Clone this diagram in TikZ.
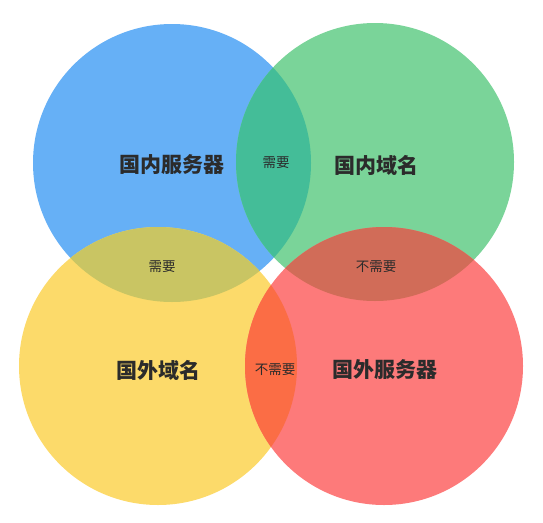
\documentclass[tikz,border=0pt]{standalone}
\usepackage{fontspec}
\setmainfont{Noto Sans CJK SC}
\usepackage{xcolor}
\usepackage{tikz}

\definecolor{dom server}{HTML}{66B0F6}
\definecolor{dom domain}{HTML}{7AD499}
\definecolor{abr domain}{HTML}{FCDA6A}
\definecolor{abr server}{HTML}{FD7A7A}
\definecolor{dom both}{HTML}{44BD98}
\definecolor{server domain}{HTML}{C9C563}
\definecolor{domain server}{HTML}{D16C58}
\definecolor{abr both}{HTML}{FB6D45}
\definecolor{label text}{HTML}{2B2B2B}

\begin{document}
\begin{tikzpicture}[x=1pt, y=-1pt,
        big label/.style={font=\bfseries\fontsize{21}{25}\selectfont, text=label text},
        small label/.style={font=\fontsize{13.5}{16}\selectfont, text=label text}]
        \useasboundingbox (0, 0) rectangle (543, 522);
        \fill [dom server] (172, 163) circle (139pt);
        \fill [dom domain] (375, 162) circle (139pt);
        \fill [abr domain] (158, 366) circle (139pt);
        \fill [abr server] (384, 366) circle (139pt);

        \begin{scope}
            \clip (172, 163) circle (139pt);
            \fill [dom both] (375, 162) circle (139pt);
            \fill [server domain] (158, 366) circle (139pt);
        \end{scope}
        \begin{scope}
            \clip (384, 366) circle (139pt);
            \fill [domain server] (375, 162) circle (139pt);
            \fill [abr both] (158, 366) circle (139pt);
        \end{scope}

        \node (dom server label) [big label] at (172, 165) {国内服务器};
        \node (dom domain label) [big label] at (376, 165) {国内域名};
        \node (abr domain label) [big label] at (158, 370) {国外域名};
        \node (abr server label) [big label] at (385, 370) {国外服务器};

        \node (need top) [small label] at (276, 163) {需要};
        \node (need left) [small label] at (162, 267) {需要};
        \node (no need right) [small label] at (376, 267) {不需要};
        \node (no need bottom) [small label] at (275, 370) {不需要};
    \end{tikzpicture}
\end{document}
